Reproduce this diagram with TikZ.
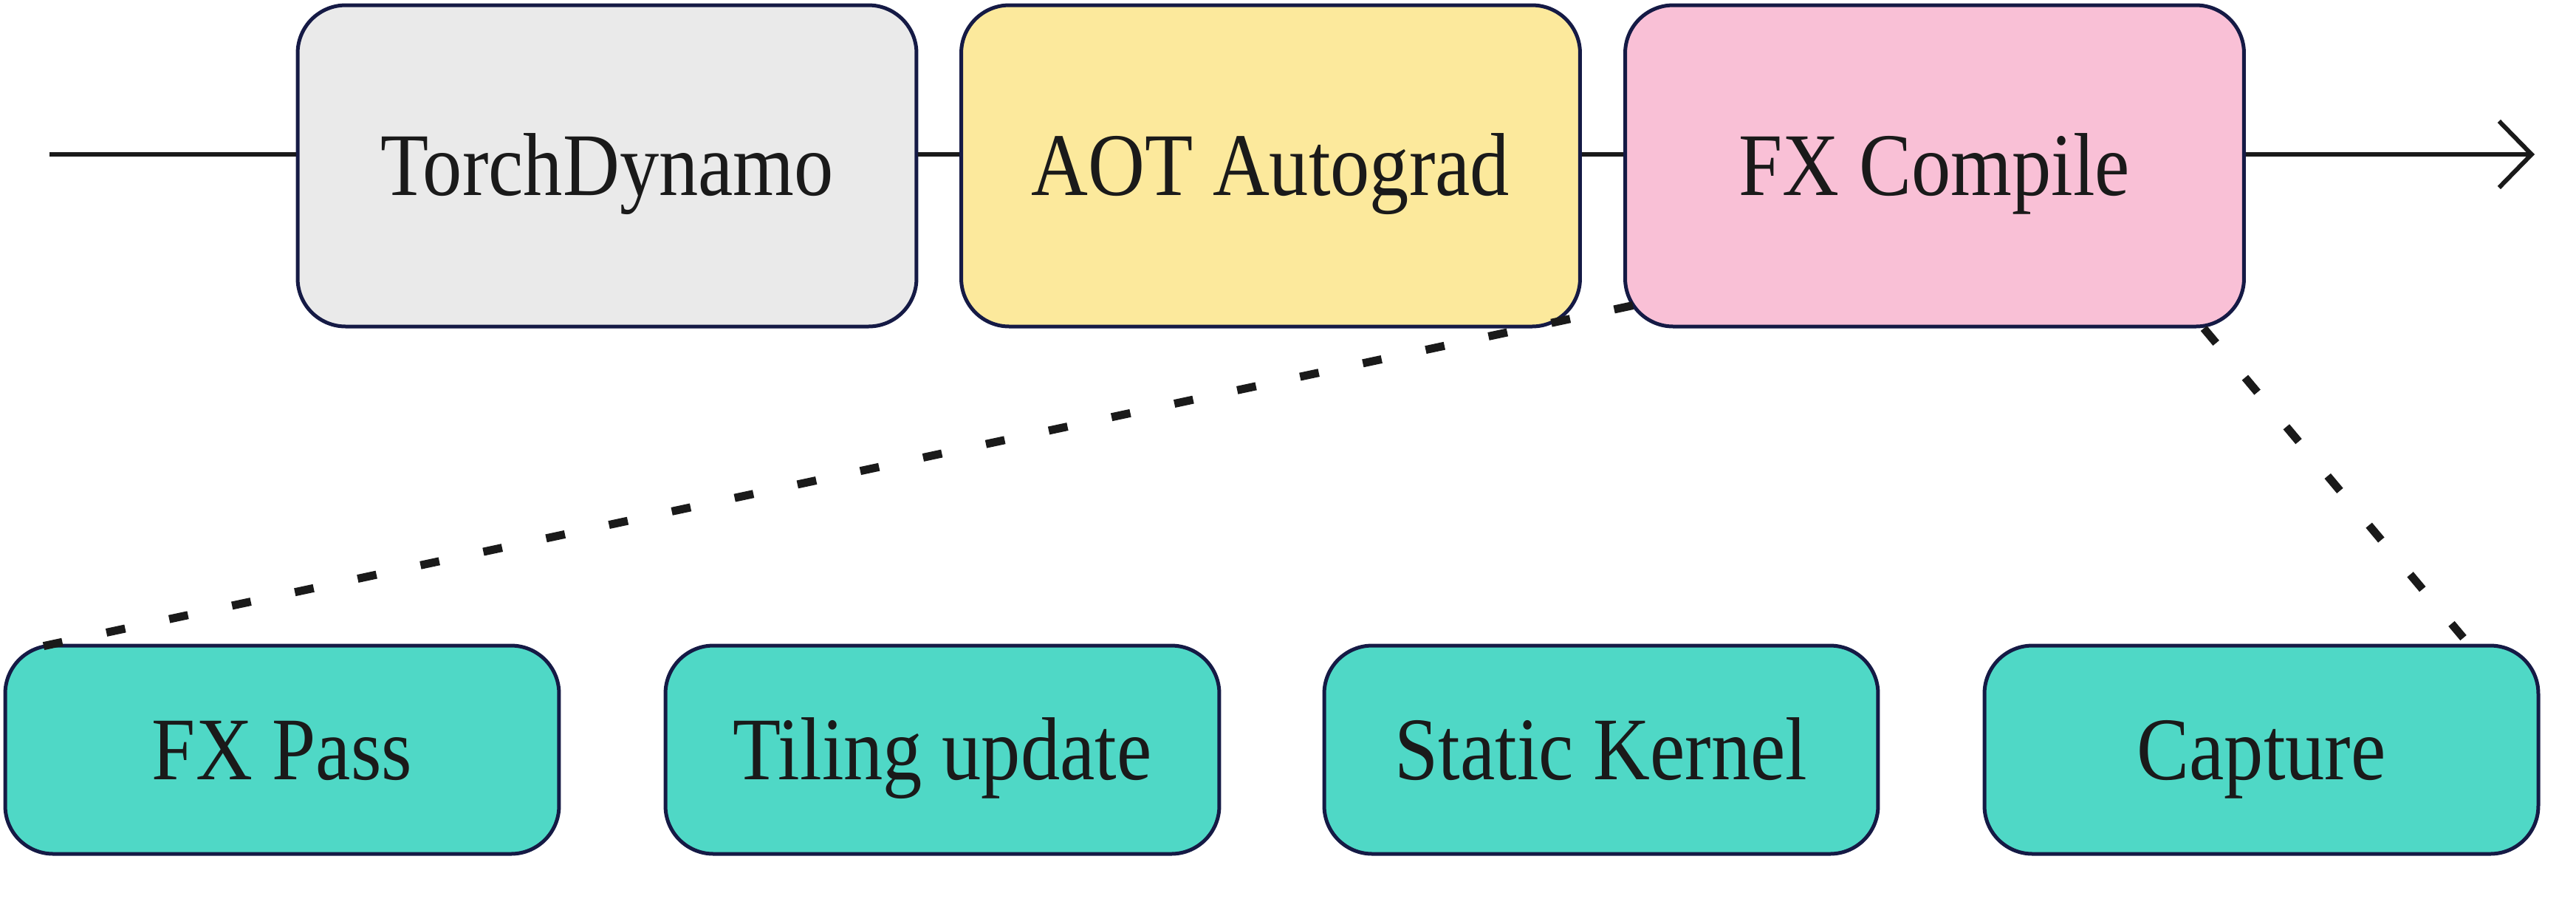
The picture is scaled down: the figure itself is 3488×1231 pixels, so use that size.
\documentclass[tikz,border=0pt]{standalone}
\usepackage{fontspec}
\setmainfont{Liberation Serif}[FakeStretch=0.88]
\usetikzlibrary{arrows.meta,calc}
\definecolor{edgec}{HTML}{151A45}
\definecolor{inkc}{HTML}{1A1A1A}
\definecolor{greyf}{HTML}{EAEAEA}
\definecolor{yellowf}{HTML}{FCE99C}
\definecolor{pinkf}{HTML}{F9C0D6}
\definecolor{tealf}{HTML}{4FD8C6}
\tikzset{
 stage/.style={draw=edgec, line width=0.5pt, rounded corners=6.5pt, minimum width=83.8pt, minimum height=43.5pt, inner sep=0pt, font=\fontsize{12.1}{14}\selectfont, text=inkc, text height=8pt, text depth=0pt},
 subbox/.style={stage, fill=tealf, minimum width=75pt, minimum height=28.2pt},
 flow/.style={draw=inkc, line width=0.6pt},
 dashlink/.style={draw=inkc, line width=1.1pt, dash pattern=on 2.6pt off 6.1pt},
}
\begin{document}
\begin{tikzpicture}[x=0.1pt,y=-0.1pt]
\useasboundingbox (0,0) rectangle (3488,1231);
\coordinate (start) at (67,209);
\coordinate (finish) at (3432,209);
\node[stage, fill=greyf] (td) at (822,224.5) {TorchDynamo};
\node[stage, fill=yellowf] (aot) at (1720.5,224.5) {AOT Autograd};
\node[stage, fill=pinkf] (fx) at (2619.5,224.5) {FX Compile};
\draw[flow] (start) -- (start -| td.west);
\draw[flow] (start -| td.east) -- (start -| aot.west);
\draw[flow] (start -| aot.east) -- (start -| fx.west);
\draw[flow, -{Straight Barb[length=4.4pt,width=9pt,line width=0.6pt]}] (start -| fx.east) -- (finish);
\node[subbox] (fxpass) at (382,1015) {FX Pass};
\node[subbox] (tiling) at (1276,1015) {Tiling update};
\node[subbox] (static) at (2168,1015) {Static Kernel};
\node[subbox] (capture) at (3062,1015) {Capture};
\draw[dashlink] ([xshift=1.3pt,yshift=3.1pt]fx.south west) -- ([xshift=4.1pt,yshift=-0.6pt]fxpass.north west);
\draw[dashlink] ([xshift=-5.7pt,yshift=0pt]fx.south east) -- ([xshift=-10.4pt,yshift=0.8pt]capture.north east);
\end{tikzpicture}
\end{document}
